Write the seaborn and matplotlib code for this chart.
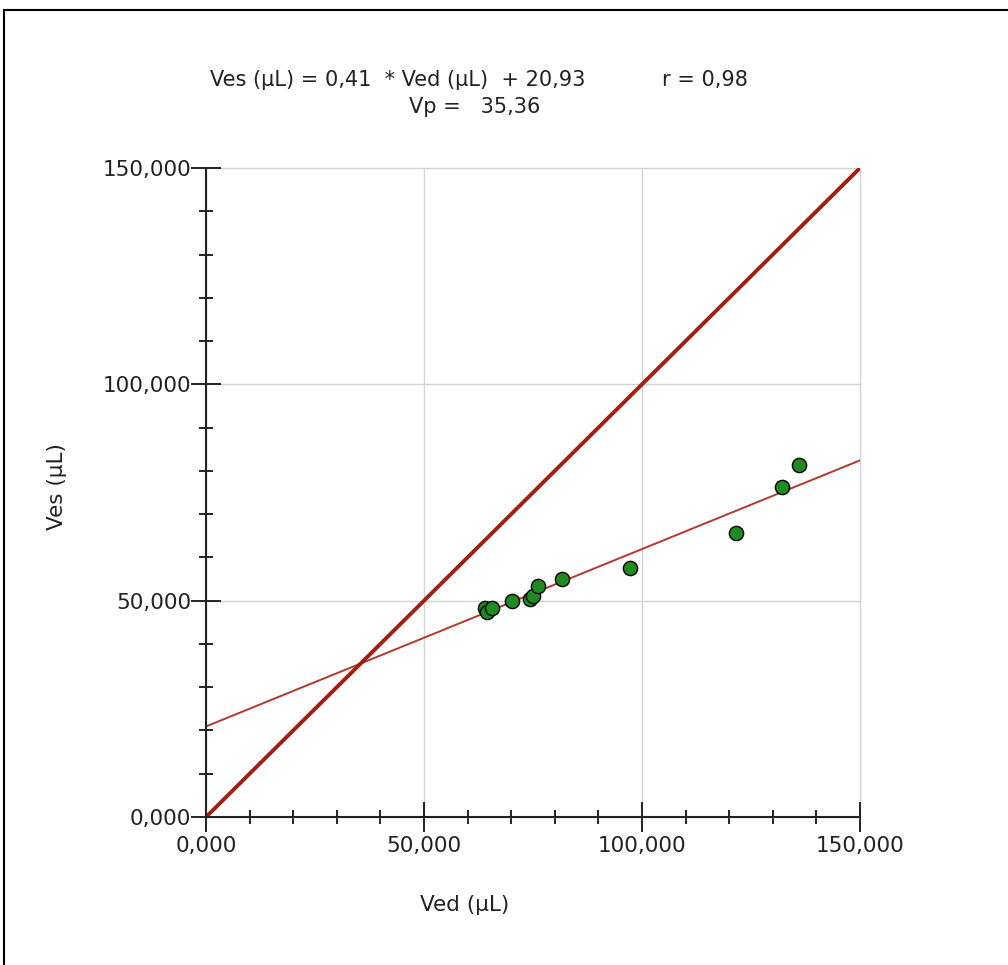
import matplotlib
matplotlib.use("Agg")
import matplotlib.pyplot as plt
from matplotlib.patches import Rectangle
from matplotlib.ticker import MultipleLocator, FuncFormatter
import seaborn as sns
import pandas as pd

# ---- data (µL) ----
ved = [63.9, 64.5, 65.5, 70.1, 74.2, 74.9, 76.2, 81.7, 97.3, 121.6, 132.0, 135.9]
ves = [48.3, 47.4, 48.4, 50.0, 50.5, 51.0, 53.4, 54.9, 57.6, 65.6, 76.2, 81.4]
slope = 0.41
intercept = 20.93
r_value = 0.98
vp = 35.36
axis_range = [0.0, 150.0]
major_ticks = [0, 50, 100, 150]

sns.set_theme(style="white")
plt.rcParams['font.family'] = ['DejaVu Sans']

fig = plt.figure(figsize=(10.08, 9.65), dpi=100)
ax = fig.add_axes([206/1008, 1-817/965, 654/1008, 649/965])

df = pd.DataFrame({"Ved": ved, "Ves": ves})
line_id = pd.DataFrame({"x": axis_range, "y": axis_range})
line_reg = pd.DataFrame({"x": axis_range, "y": [slope*v + intercept for v in axis_range]})

sns.lineplot(data=line_reg, x="x", y="y", ax=ax, color="#b3382e", linewidth=1.4, zorder=2)
sns.lineplot(data=line_id, x="x", y="y", ax=ax, color="#a11e12", linewidth=2.8, zorder=3,
             solid_capstyle="butt")
sns.scatterplot(data=df, x="Ved", y="Ves", ax=ax, color="#1f8a1f", edgecolor="black",
                linewidth=1.0, s=105, zorder=4)

ax.set_xlim(*axis_range)
ax.set_ylim(*axis_range)
ax.set_xticks(major_ticks)
ax.set_yticks(major_ticks)
ax.xaxis.set_minor_locator(MultipleLocator(10))
ax.yaxis.set_minor_locator(MultipleLocator(10))
fmt = FuncFormatter(lambda v, p: f"{v:.3f}".replace(".", ","))
ax.xaxis.set_major_formatter(fmt)
ax.yaxis.set_major_formatter(fmt)

for s in ["top", "right"]:
    ax.spines[s].set_visible(False)
for s in ["left", "bottom"]:
    ax.spines[s].set_color("#222222")
    ax.spines[s].set_linewidth(1.5)
    ax.spines[s].set_zorder(5)

ax.grid(True, which="major", color="#d3d3d3", linewidth=1.0)
ax.set_axisbelow(True)
for gl in ax.get_xgridlines() + ax.get_ygridlines():
    gl.set_clip_on(False)

ax.tick_params(which="major", direction="inout", length=21, width=1.4, color="#222222",
               labelsize=15.5, labelcolor="#222222")
ax.tick_params(axis="x", which="major", pad=3)
ax.tick_params(axis="y", which="major", pad=0)
ax.tick_params(which="minor", direction="inout", length=10, width=1.4, color="#222222")
ax.tick_params(bottom=True, left=True, which="both")

ax.set_xlabel("")
ax.set_ylabel("")
fig.text(465/1008, 1-905/965, "Ved (µL)", ha="center", va="center", fontsize=15.5, color="#222222")
fig.text(57/1008, 1-487/965, "Ves (µL)", ha="center", va="center", rotation=90, fontsize=15.5,
         color="#222222")

fig.text(398/1008, 1-80/965, f"Ves (µL) = {slope:.2f}  * Ved (µL)  + {intercept:.2f}".replace(".", ","),
         ha="center", va="center", fontsize=15, color="#222222")
fig.text(705/1008, 1-80/965, f"r = {r_value:.2f}".replace(".", ","),
         ha="center", va="center", fontsize=15, color="#222222")
fig.text(475/1008, 1-107/965, f"Vp =   {vp:.2f}".replace(".", ","),
         ha="center", va="center", fontsize=15, color="#222222")

fig.patches.append(Rectangle((4/1008, -0.5), 1.5, 1.5-10/965, transform=fig.transFigure,
                             fill=False, edgecolor="black", linewidth=1.5, clip_on=False))

fig.savefig("out.png", dpi=100)
